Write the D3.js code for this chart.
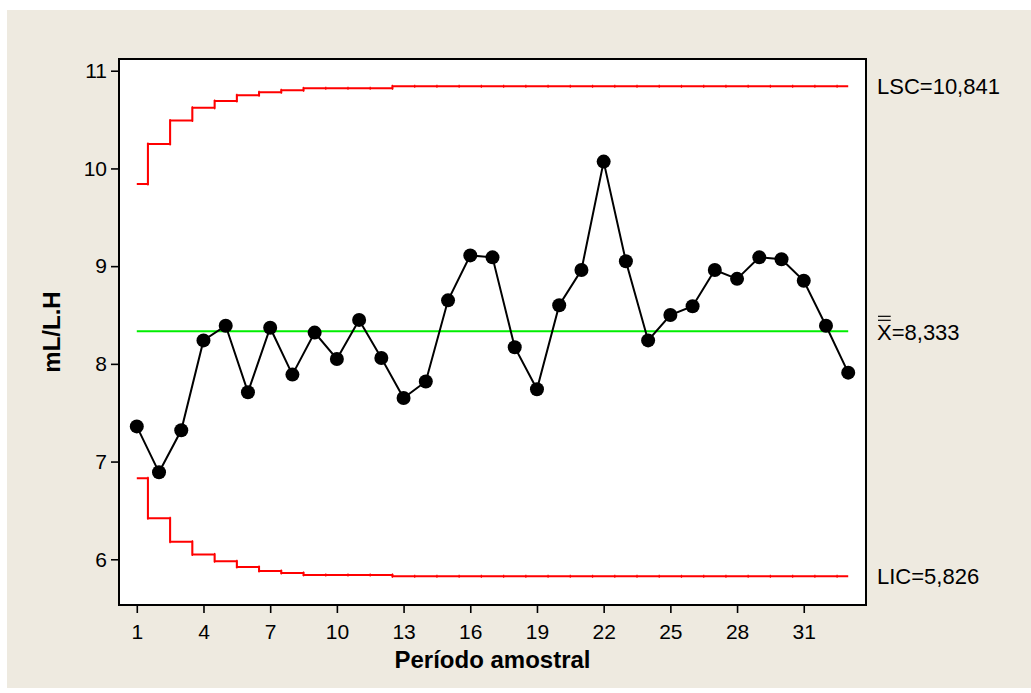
<!DOCTYPE html>
<html>
<head>
<meta charset="utf-8">
<script src="https://cdn.jsdelivr.net/npm/d3@7"></script>
<style>
  html, body { margin: 0; padding: 0; background: #ffffff; }
  svg { display: block; }
  text { font-family: "Liberation Sans", Arial, sans-serif; fill: #000; }
</style>
</head>
<body>
<svg id="chart" width="1031" height="693"></svg>
<script>
// Sample periods (x axis)
const periods = [1, 2, 3, 4, 5, 6, 7, 8, 9, 10, 11, 12, 13, 14, 15, 16, 17,
                 18, 19, 20, 21, 22, 23, 24, 25, 26, 27, 28, 29, 30, 31, 32, 33];

// Plotted statistic per period (mL/L.H)
const values = [7.36, 6.89, 7.32, 8.24, 8.39, 7.71, 8.37, 7.89, 8.32, 8.05, 8.45,
                8.06, 7.65, 7.82, 8.65, 9.11, 9.09, 8.17, 7.74, 8.60, 8.96, 10.07,
                9.05, 8.24, 8.50, 8.59, 8.96, 8.87, 9.09, 9.07, 8.85, 8.39, 7.91];

// Upper control limit per period (LSC)
const ucl = [9.84, 10.25, 10.49, 10.62, 10.69, 10.75, 10.78, 10.80, 10.82, 10.82, 10.82,
             10.82, 10.841, 10.841, 10.841, 10.841, 10.841, 10.841, 10.841, 10.841, 10.841, 10.841,
             10.841, 10.841, 10.841, 10.841, 10.841, 10.841, 10.841, 10.841, 10.841, 10.841, 10.841];

// Lower control limit per period (LIC)
const lcl = [6.83, 6.42, 6.18, 6.05, 5.98, 5.92, 5.88, 5.86, 5.84, 5.84, 5.84,
             5.84, 5.826, 5.826, 5.826, 5.826, 5.826, 5.826, 5.826, 5.826, 5.826, 5.826,
             5.826, 5.826, 5.826, 5.826, 5.826, 5.826, 5.826, 5.826, 5.826, 5.826, 5.826];

// Center line
const centerValue = 8.333;

// Axis ticks
const xTicks = [1, 4, 7, 10, 13, 16, 19, 22, 25, 28, 31];
const yTicks = [6, 7, 8, 9, 10, 11];

// Right-hand labels
const limitLabels = [
  { value: 10.841, text: "LSC=10,841" },
  { value: 5.826, text: "LIC=5,826" }
];
const centerLabel = "=8,333";

const svg = d3.select("#chart");

// Panel background
svg.append("rect")
  .attr("x", 7).attr("y", 10)
  .attr("width", 1024).attr("height", 678)
  .attr("fill", "#eeeae0");

const plot = { left: 119, top: 59, right: 866, bottom: 605 };

const x = d3.scaleLinear().domain([0.2, 33.8]).range([plot.left, plot.right]);
const y = d3.scaleLinear().domain([5.532, 11.12]).range([plot.bottom, plot.top]);

// Plot area
svg.append("rect")
  .attr("x", plot.left).attr("y", plot.top)
  .attr("width", plot.right - plot.left).attr("height", plot.bottom - plot.top)
  .attr("fill", "#ffffff");

// Axes
const xAxis = d3.axisBottom(x).tickValues(xTicks).tickSize(8).tickPadding(11).tickFormat(d3.format("d"));
const yAxis = d3.axisLeft(y).tickValues(yTicks).tickSize(8).tickPadding(4).tickFormat(d3.format("d"));

const gx = svg.append("g").attr("transform", `translate(0,${plot.bottom})`).call(xAxis);
const gy = svg.append("g").attr("transform", `translate(${plot.left},0)`).call(yAxis);
[gx, gy].forEach(g => {
  g.select(".domain").remove();
  g.selectAll(".tick line").attr("stroke", "#000").attr("stroke-width", 1.6);
  g.selectAll(".tick text")
    .attr("font-family", '"Liberation Sans", Arial, sans-serif')
    .attr("font-size", 21)
    .attr("fill", "#000");
});

// Limit step lines
const stepLine = d3.line()
  .x((d, i) => x(periods[i]))
  .y(d => y(d))
  .curve(d3.curveStep);

[ucl, lcl].forEach(lim => {
  svg.append("path")
    .datum(lim)
    .attr("d", stepLine)
    .attr("fill", "none")
    .attr("stroke", "#ff0000")
    .attr("stroke-width", 2);
  // small marks at each step boundary
  svg.append("g").selectAll("line")
    .data(periods.slice(0, -1))
    .join("line")
    .attr("x1", d => x(d + 0.5)).attr("x2", d => x(d + 0.5))
    .attr("y1", (d, i) => y(Math.max(lim[i], lim[i + 1])) - 1.5)
    .attr("y2", (d, i) => y(Math.min(lim[i], lim[i + 1])) + 1.5)
    .attr("stroke", "#ff0000")
    .attr("stroke-width", 1.2);
});

// Center line
svg.append("line")
  .attr("x1", x(periods[0])).attr("x2", x(periods[periods.length - 1]))
  .attr("y1", y(centerValue)).attr("y2", y(centerValue))
  .attr("stroke", "#00ee00")
  .attr("stroke-width", 2);

// Data series
const dataLine = d3.line()
  .x((d, i) => x(periods[i]))
  .y(d => y(d));

svg.append("path")
  .datum(values)
  .attr("d", dataLine)
  .attr("fill", "none")
  .attr("stroke", "#000")
  .attr("stroke-width", 2);

svg.append("g").selectAll("circle")
  .data(values)
  .join("circle")
  .attr("cx", (d, i) => x(periods[i]))
  .attr("cy", d => y(d))
  .attr("r", 7)
  .attr("fill", "#000");

// Plot frame
svg.append("rect")
  .attr("x", plot.left).attr("y", plot.top)
  .attr("width", plot.right - plot.left).attr("height", plot.bottom - plot.top)
  .attr("fill", "none")
  .attr("stroke", "#000")
  .attr("stroke-width", 2);

// Limit labels
const labelX = plot.right + 11;
svg.append("g").selectAll("text")
  .data(limitLabels)
  .join("text")
  .attr("x", labelX)
  .attr("y", d => y(d.value))
  .attr("dy", "0.36em")
  .attr("font-size", 22)
  .text(d => d.text);

// Center label: X with double overbar
const cl = svg.append("text")
  .attr("x", labelX)
  .attr("y", y(centerValue) + 1)
  .attr("dy", "0.36em")
  .attr("font-size", 22);
cl.append("tspan").attr("class", "xbar").text("X");
cl.append("tspan").text(centerLabel);
const xw = cl.select(".xbar").node().getComputedTextLength();
[0, 4].forEach(off => {
  svg.append("line")
    .attr("x1", labelX + 1).attr("x2", labelX + xw - 1)
    .attr("y1", y(centerValue) - 11 - off).attr("y2", y(centerValue) - 11 - off)
    .attr("stroke", "#000").attr("stroke-width", 1.2);
});

// Axis titles
svg.append("text")
  .attr("x", (plot.left + plot.right) / 2)
  .attr("y", 668)
  .attr("text-anchor", "middle")
  .attr("font-size", 24)
  .attr("font-weight", "bold")
  .text("Período amostral");

svg.append("text")
  .attr("transform", `translate(60,${(plot.top + plot.bottom) / 2}) rotate(-90)`)
  .attr("text-anchor", "middle")
  .attr("font-size", 24)
  .attr("font-weight", "bold")
  .text("mL/L.H");
</script>
</body>
</html>
